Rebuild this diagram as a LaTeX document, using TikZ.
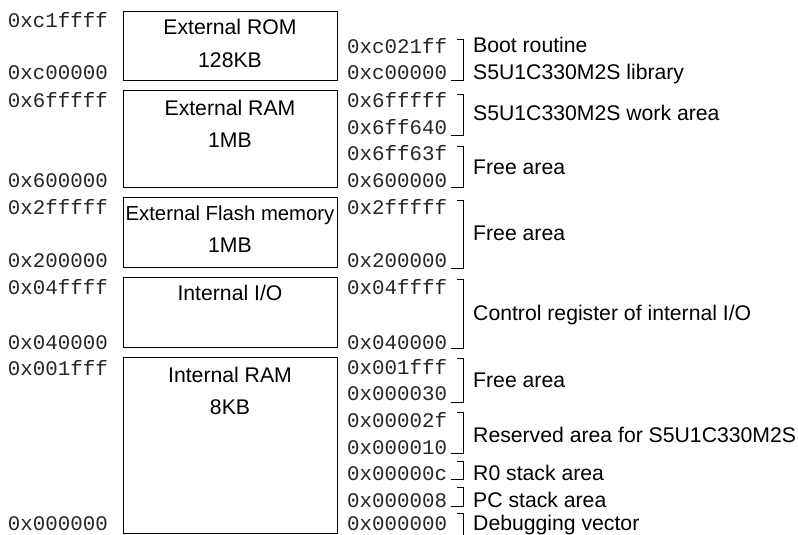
\documentclass[tikz,border=0pt]{standalone}
\usepackage{fontspec}
\setmainfont{Liberation Sans}
\setmonofont{Liberation Mono}
\begin{document}
\begin{tikzpicture}[x=1pt,y=-1pt,
  addr/.style={font=\fontsize{20.8}{22}\ttfamily, text=black!85, inner sep=0pt, text height=14pt, text depth=0pt},
  lbl/.style={font=\fontsize{21.2}{22}\selectfont, inner sep=0pt, text height=14pt, text depth=0pt},
  memblock/.style={draw, line width=1pt, inner sep=0pt, anchor=north west, minimum width=214pt},
  brk/.style={line width=0.8pt}]
\useasboundingbox (0,0) rectangle (798,535);
\clip (0,0) rectangle (798,535);
% memory blocks
\node[memblock, minimum height=69pt] (rom) at (123,11) {};
\node[memblock, minimum height=97pt] (ram) at (123,90) {};
\node[memblock, minimum height=70pt] (flash) at (123,197) {};
\node[memblock, minimum height=70pt] (io) at (123,277) {};
\node[memblock, minimum height=176pt] (iram) at (123,357) {};
% block texts
\node[lbl] (t1) at (230,28) {External ROM};
\node[lbl] (t2) at (230,60) {128KB};
\node[lbl] (t3) at (230,108) {External RAM};
\node[lbl] (t4) at (230,140) {1MB};
\node[lbl, font=\fontsize{20.3}{22}\selectfont] (t5) at (230,213) {External Flash memory};
\node[lbl] (t6) at (230,245) {1MB};
\node[lbl] (t7) at (230,293) {Internal I/O};
\node[lbl] (t8) at (230,375) {Internal RAM};
\node[lbl] (t9) at (230,407) {8KB};
% left addresses
\node[addr, anchor=east] (l1) at (108,21) {0xc1ffff};
\node[addr, anchor=east] (l2) at (108,73) {0xc00000};
\node[addr, anchor=east] (l3) at (108,100) {0x6fffff};
\node[addr, anchor=east] (l4) at (108,180) {0x600000};
\node[addr, anchor=east] (l5) at (108,207) {0x2fffff};
\node[addr, anchor=east] (l6) at (108,260) {0x200000};
\node[addr, anchor=east] (l7) at (108,287) {0x04ffff};
\node[addr, anchor=east] (l8) at (108,342) {0x040000};
\node[addr, anchor=east] (l9) at (108,368) {0x001fff};
\node[addr, anchor=east] (l10) at (108,523) {0x000000};
% right addresses
\node[addr, anchor=west] (r1) at (347,47) {0xc021ff};
\node[addr, anchor=west] (r2) at (347,73) {0xc00000};
\node[addr, anchor=west] (r3) at (347,100) {0x6fffff};
\node[addr, anchor=west] (r4) at (347,127) {0x6ff640};
\node[addr, anchor=west] (r5) at (347,153) {0x6ff63f};
\node[addr, anchor=west] (r6) at (347,180) {0x600000};
\node[addr, anchor=west] (r7) at (347,207) {0x2fffff};
\node[addr, anchor=west] (r8) at (347,260) {0x200000};
\node[addr, anchor=west] (r9) at (347,287) {0x04ffff};
\node[addr, anchor=west] (r10) at (347,342) {0x040000};
\node[addr, anchor=west] (r11) at (347,367) {0x001fff};
\node[addr, anchor=west] (r12) at (347,393) {0x000030};
\node[addr, anchor=west] (r13) at (347,420) {0x00002f};
\node[addr, anchor=west] (r14) at (347,447) {0x000010};
\node[addr, anchor=west] (r15) at (347,473) {0x00000c};
\node[addr, anchor=west] (r16) at (347,500) {0x000008};
\node[addr, anchor=west] (r17) at (347,523) {0x000000};
% brackets
\foreach \t/\b in {39/80, 94/135, 146/187, 200/268, 279/348, 358/402, 412/453, 461/479, 487/506, 513/545}{
  \draw[brk] (457,\t) -- (463,\t) -- (463,\b) -- (451,\b);
}
% region labels
\node[lbl, anchor=west] (a1) at (473,46) {Boot routine};
\node[lbl, anchor=west] (a2) at (473,73) {S5U1C330M2S library};
\node[lbl, anchor=west] (a3) at (473,113) {S5U1C330M2S work area};
\node[lbl, anchor=west] (a4) at (473,167) {Free area};
\node[lbl, anchor=west] (a5) at (473,233) {Free area};
\node[lbl, anchor=west] (a6) at (473,313) {Control register of internal I/O};
\node[lbl, anchor=west] (a7) at (473,380) {Free area};
\node[lbl, anchor=west] (a8) at (473,435) {Reserved area for S5U1C330M2S};
\node[lbl, anchor=west] (a9) at (473,473) {R0 stack area};
\node[lbl, anchor=west] (a10) at (473,500) {PC stack area};
\node[lbl, anchor=west] (a11) at (473,523) {Debugging vector};
\end{tikzpicture}
\end{document}
